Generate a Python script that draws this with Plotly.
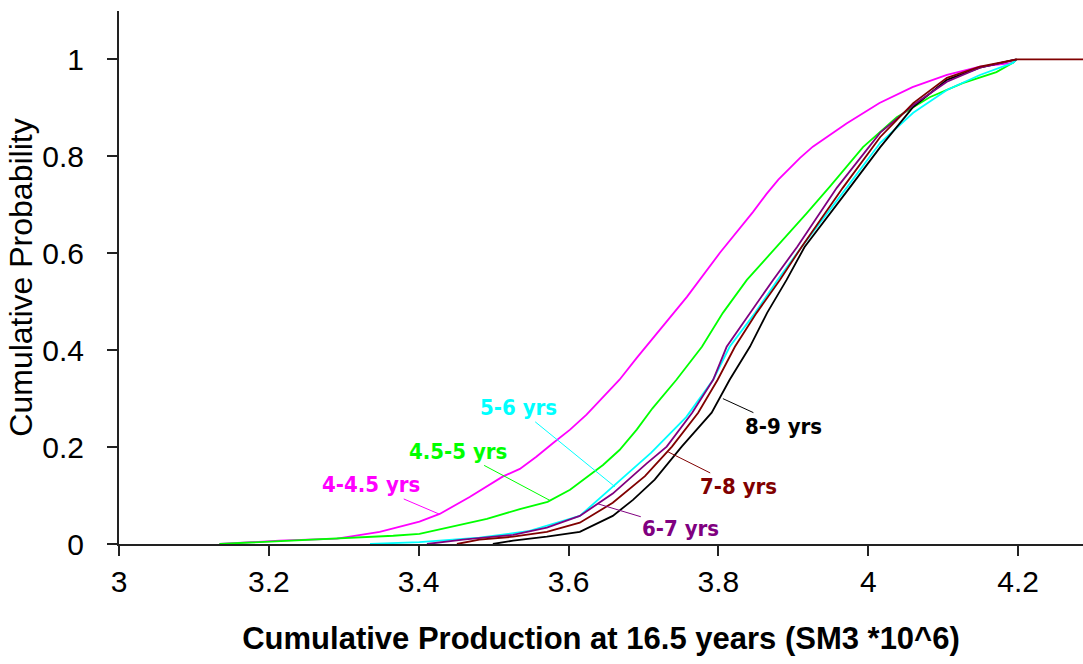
import plotly.graph_objects as go

# Cumulative production (SM3 *10^6) and cumulative probability
x_44 = [3.134, 3.214, 3.291, 3.348, 3.401, 3.428, 3.468, 3.512, 3.535, 3.557, 3.579, 3.602,
        3.624, 3.646, 3.668, 3.691, 3.712, 3.758, 3.802, 3.846, 3.864, 3.880, 3.909, 3.926,
        3.971, 4.015, 4.059, 4.105, 4.149, 4.193, 4.198]
y_44 = [0.0, 0.007, 0.011, 0.025, 0.046, 0.062, 0.097, 0.139, 0.155, 0.180, 0.208, 0.236,
        0.267, 0.302, 0.339, 0.384, 0.424, 0.510, 0.601, 0.685, 0.722, 0.752, 0.797, 0.820,
        0.868, 0.910, 0.943, 0.968, 0.985, 0.993, 1.0]

x_45 = [3.134, 3.224, 3.295, 3.366, 3.401, 3.446, 3.491, 3.535, 3.572, 3.602, 3.624, 3.646,
        3.668, 3.691, 3.712, 3.744, 3.778, 3.806, 3.838, 3.878, 3.918, 3.949, 3.993, 4.038,
        4.082, 4.126, 4.171, 4.193, 4.198]
y_45 = [0.0, 0.007, 0.011, 0.017, 0.021, 0.036, 0.052, 0.072, 0.087, 0.112, 0.137, 0.163,
        0.194, 0.236, 0.280, 0.339, 0.407, 0.477, 0.545, 0.613, 0.683, 0.738, 0.819, 0.881,
        0.922, 0.951, 0.974, 0.993, 1.0]

x_56 = [3.335, 3.401, 3.481, 3.548, 3.615, 3.659, 3.710, 3.757, 3.793, 3.815, 3.849, 3.879,
        3.911, 3.971, 4.016, 4.060, 4.105, 4.149, 4.193, 4.198]
y_56 = [0.0, 0.004, 0.013, 0.027, 0.058, 0.118, 0.188, 0.262, 0.339, 0.407, 0.477, 0.545,
        0.613, 0.735, 0.828, 0.890, 0.937, 0.968, 0.993, 1.0]

x_67 = [3.411, 3.459, 3.526, 3.571, 3.615, 3.659, 3.704, 3.731, 3.765, 3.793, 3.811, 3.842,
        3.873, 3.905, 3.958, 4.016, 4.060, 4.105, 4.149, 4.198]
y_67 = [0.0, 0.009, 0.019, 0.034, 0.058, 0.104, 0.166, 0.201, 0.271, 0.339, 0.407, 0.477,
        0.545, 0.613, 0.735, 0.849, 0.906, 0.954, 0.983, 1.0]

x_78 = [3.451, 3.481, 3.526, 3.571, 3.615, 3.659, 3.702, 3.738, 3.773, 3.799, 3.822, 3.851,
        3.882, 3.911, 3.966, 4.016, 4.060, 4.105, 4.149, 4.198, 4.29]
y_78 = [0.0, 0.009, 0.015, 0.025, 0.044, 0.085, 0.140, 0.201, 0.271, 0.339, 0.407, 0.477,
        0.545, 0.613, 0.735, 0.840, 0.910, 0.962, 0.985, 1.0, 1.0]

x_89 = [3.499, 3.526, 3.571, 3.615, 3.659, 3.686, 3.715, 3.751, 3.791, 3.815, 3.842, 3.865,
        3.891, 3.915, 3.975, 4.016, 4.060, 4.105, 4.149, 4.198]
y_89 = [0.0, 0.007, 0.015, 0.025, 0.058, 0.091, 0.133, 0.201, 0.271, 0.339, 0.407, 0.477,
        0.545, 0.613, 0.735, 0.819, 0.902, 0.958, 0.983, 1.0]

series_names = ["4-4.5 yrs", "4.5-5 yrs", "5-6 yrs", "8-9 yrs", "6-7 yrs", "7-8 yrs"]
series_x = [x_44, x_45, x_56, x_89, x_67, x_78]
series_y = [y_44, y_45, y_56, y_89, y_67, y_78]
series_colors = ["#FF00FF", "#00FF00", "#00FFFF", "#000000", "#800080", "#800000"]

# label anchor points on the curves (data coords)
label_x = [3.427, 3.575, 3.662, 3.806, 3.639, 3.733]
label_y = [0.062, 0.090, 0.118, 0.300, 0.083, 0.190]

x_ticks = [3, 3.2, 3.4, 3.6, 3.8, 4, 4.2]
y_ticks = [0, 0.2, 0.4, 0.6, 0.8, 1]

fig = go.Figure()
for name, xs, ys, col in zip(series_names, series_x, series_y, series_colors):
    fig.add_trace(go.Scatter(x=xs, y=ys, mode="lines", name=name,
                             line=dict(color=col, width=1.8), showlegend=False))

offsets = {"4-4.5 yrs": (-68, -29), "4.5-5 yrs": (-92, -49), "5-6 yrs": (-97, -79),
           "8-9 yrs": (61, 28), "6-7 yrs": (83, 25), "7-8 yrs": (70, 35)}
label_font = "Liberation Sans Narrow, DejaVu Sans Condensed, Liberation Sans, Arial, sans-serif"
for name, col, lx, ly in zip(series_names, series_colors, label_x, label_y):
    ax, ay = offsets[name]
    fig.add_annotation(x=lx, y=ly, xref="x", yref="y", text="<b>%s</b>" % name,
                       showarrow=True, arrowhead=0, arrowwidth=1, arrowcolor=col,
                       ax=ax, ay=ay, standoff=0,
                       font=dict(family=label_font, size=22, color=col))

axis_font = "Liberation Sans, Arial, sans-serif"
fig.update_layout(
    width=1083, height=664,
    margin=dict(l=119, r=0, t=11, b=120),
    paper_bgcolor="white", plot_bgcolor="white",
    font=dict(family=axis_font, color="black"),
    xaxis=dict(range=[3, 4.2866], tickvals=x_ticks, ticktext=[str(v) for v in x_ticks],
               showgrid=False, zeroline=False, showline=True, linecolor="#222",
               linewidth=2, ticks="outside", ticklen=10, tickwidth=2, tickcolor="#222",
               tickfont=dict(size=30), ticklabelstandoff=0,
               title=dict(text="<b>Cumulative Production at 16.5 years (SM3 *10^6)</b>",
                          font=dict(size=31), standoff=30)),
    yaxis=dict(range=[0, 1.1], tickvals=y_ticks, ticktext=["0", "0.2", "0.4", "0.6", "0.8", "1"],
               showgrid=False, zeroline=False, showline=True, linecolor="#222",
               linewidth=2, ticks="outside", ticklen=10, tickwidth=2, tickcolor="#222",
               tickfont=dict(size=30), ticklabelstandoff=17,
               title=dict(text="Cumulative Probability", font=dict(size=32), standoff=0)),
)

fig.write_html("out.html")
